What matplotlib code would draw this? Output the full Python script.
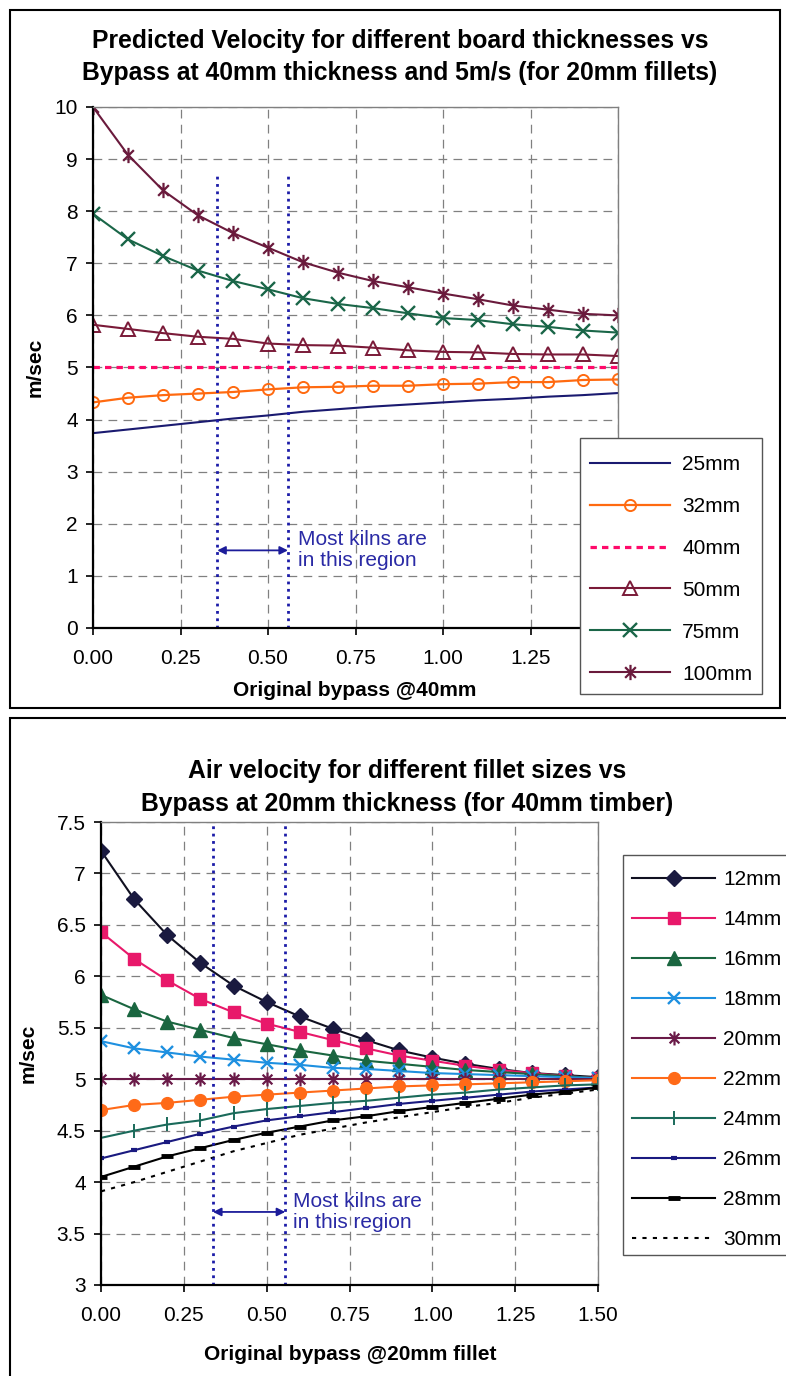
import numpy as np
import matplotlib.pyplot as plt
from matplotlib.patches import Rectangle
from matplotlib.path import Path
from matplotlib.ticker import FuncFormatter

plt.rcParams['font.family'] = ['Liberation Sans', 'DejaVu Sans']

# ---- data -------------------------------------------------------------
bypass = [0.0, 0.1, 0.2, 0.3, 0.4, 0.5, 0.6, 0.7, 0.8, 0.9, 1.0, 1.1, 1.2, 1.3, 1.4, 1.5]

# top chart: board thickness
board_labels = ['25mm', '32mm', '40mm', '50mm', '75mm', '100mm']
v25 = [3.74, 3.81, 3.88, 3.95, 4.02, 4.08, 4.15, 4.20, 4.25, 4.29, 4.33, 4.37, 4.40, 4.44, 4.47, 4.51]
v32 = [4.33, 4.42, 4.47, 4.50, 4.53, 4.58, 4.62, 4.63, 4.65, 4.65, 4.68, 4.69, 4.72, 4.72, 4.76, 4.77]
v40 = [5.0] * 16
v50 = [5.82, 5.74, 5.66, 5.59, 5.55, 5.46, 5.43, 5.42, 5.38, 5.33, 5.30, 5.29, 5.26, 5.25, 5.25, 5.22]
v75 = [7.95, 7.46, 7.14, 6.86, 6.66, 6.50, 6.33, 6.22, 6.14, 6.04, 5.95, 5.91, 5.83, 5.78, 5.71, 5.67]
v100 = [10.0, 9.08, 8.40, 7.92, 7.58, 7.30, 7.02, 6.82, 6.66, 6.54, 6.42, 6.31, 6.19, 6.11, 6.03, 6.00]

# bottom chart: fillet size
fillet_labels = ['12mm', '14mm', '16mm', '18mm', '20mm', '22mm', '24mm', '26mm', '28mm', '30mm']
f12 = [7.22, 6.75, 6.40, 6.13, 5.91, 5.75, 5.61, 5.49, 5.38, 5.28, 5.21, 5.15, 5.10, 5.06, 5.04, 5.02]
f14 = [6.43, 6.17, 5.96, 5.78, 5.65, 5.54, 5.46, 5.38, 5.30, 5.23, 5.18, 5.13, 5.09, 5.06, 5.03, 5.01]
f16 = [5.82, 5.68, 5.56, 5.48, 5.40, 5.34, 5.28, 5.23, 5.18, 5.15, 5.12, 5.09, 5.07, 5.05, 5.03, 5.01]
f18 = [5.37, 5.30, 5.26, 5.22, 5.19, 5.16, 5.14, 5.11, 5.10, 5.08, 5.06, 5.05, 5.04, 5.03, 5.02, 5.01]
f20 = [5.0] * 16
f22 = [4.70, 4.75, 4.77, 4.80, 4.83, 4.85, 4.87, 4.89, 4.91, 4.93, 4.94, 4.95, 4.96, 4.97, 4.98, 4.99]
f24 = [4.43, 4.50, 4.56, 4.60, 4.67, 4.71, 4.74, 4.77, 4.79, 4.82, 4.85, 4.87, 4.90, 4.92, 4.94, 4.95]
f26 = [4.23, 4.31, 4.39, 4.47, 4.54, 4.60, 4.64, 4.68, 4.72, 4.76, 4.79, 4.82, 4.85, 4.88, 4.90, 4.92]
f28 = [4.05, 4.15, 4.25, 4.33, 4.41, 4.48, 4.54, 4.60, 4.64, 4.69, 4.73, 4.77, 4.81, 4.85, 4.88, 4.92]
f30 = [3.91, 4.00, 4.10, 4.20, 4.30, 4.38, 4.46, 4.52, 4.58, 4.63, 4.68, 4.73, 4.77, 4.82, 4.86, 4.90]

kiln_lo = [0.355, 0.338]
kiln_hi = [0.557, 0.556]

W, H = 786, 1376

# excel style star marker (x with a vertical bar)
star = Path([(0, -1), (0, 1), (-0.7, -0.7), (0.7, 0.7), (-0.7, 0.7), (0.7, -0.7)],
            [Path.MOVETO, Path.LINETO] * 3)


def fx(px):
    return px / W


def fy(py):
    return 1 - py / H


def style_axes(ax):
    ax.grid(True, color='#808080', linestyle=(0, (7, 5)), linewidth=0.9)
    ax.set_axisbelow(True)
    for s in ['top', 'right']:
        ax.spines[s].set_color('#808080')
        ax.spines[s].set_linewidth(1.0)
    for s in ['left', 'bottom']:
        ax.spines[s].set_color('black')
        ax.spines[s].set_linewidth(1.6)
    ax.tick_params(axis='y', direction='out', length=5, width=1.2, pad=6, labelsize=15)
    ax.tick_params(axis='x', direction='out', length=5, width=1.2, pad=10, labelsize=15)
    ax.xaxis.set_major_formatter(FuncFormatter(lambda v, p: '%.2f' % v))
    ax.yaxis.set_major_formatter(FuncFormatter(lambda v, p: '%g' % v))


def kiln_region(ax, lo, hi, top, arrow_y, text_x):
    kc = '#1c1ca8'
    ax.plot([lo, lo], [ax.get_ylim()[0], top], color=kc, linestyle=':', linewidth=2.0)
    ax.plot([hi, hi], [ax.get_ylim()[0], top], color=kc, linestyle=':', linewidth=2.0)
    ax.annotate('', xy=(hi, arrow_y), xytext=(lo, arrow_y),
                arrowprops=dict(arrowstyle='<|-|>', color='#1c1c9a', lw=1.3,
                                shrinkA=0, shrinkB=0, mutation_scale=12))
    ax.text(text_x, arrow_y, 'Most kilns are\nin this region', color='#2a2aa5',
            fontsize=15, va='center', ha='left', linespacing=1.15)


def legend_box(x0, y0, x1, y1):
    fig.add_artist(Rectangle((fx(x0), fy(y1)), fx(x1 - x0), (y1 - y0) / H,
                             transform=fig.transFigure, fc='white', ec='#555555',
                             lw=1.0, zorder=4.9))


fig = plt.figure(figsize=(W / 100, H / 100), dpi=100)

# panel frames
fig.add_artist(Rectangle((fx(10), fy(708)), fx(770), 698 / H, transform=fig.transFigure,
                         fill=False, ec='black', lw=1.5))
fig.add_artist(Rectangle((fx(10), -0.2), 1.2, 0.2 + (H - 718) / H, transform=fig.transFigure,
                         fill=False, ec='black', lw=1.5))

# ---- top chart ---------------------------------------------------------
ax1 = fig.add_axes([fx(93), fy(628), fx(618 - 93), (628 - 107) / H])
ax1.plot(bypass, v25, color='#1a1a70', lw=1.5, label=board_labels[0])
ax1.plot(bypass, v32, color='#ff6a10', lw=1.6, marker='o', ms=8, mfc='none', mew=1.4,
         label=board_labels[1])
ax1.plot(bypass, v40, color='#ff0a6a', lw=2.3, linestyle=(0, (2, 1.6)), label=board_labels[2])
ax1.plot(bypass, v50, color='#7a1a38', lw=1.5, marker='^', ms=10, mfc='none', mew=1.4,
         label=board_labels[3])
ax1.plot(bypass, v75, color='#1a6648', lw=1.5, marker='x', ms=10, mew=1.7,
         label=board_labels[4])
ax1.plot(bypass, v100, color='#6a1a3c', lw=1.5, marker=star, ms=11, mfc='none', mew=1.6,
         label=board_labels[5])
ax1.set_xlim(0, 1.5)
ax1.set_ylim(0, 10)
ax1.set_xticks(np.arange(0, 1.51, 0.25))
ax1.set_yticks(np.arange(0, 11, 1))
style_axes(ax1)
kiln_region(ax1, kiln_lo[0], kiln_hi[0], 8.75, 1.49, 0.585)

fig.text(fx(400), fy(41), 'Predicted Velocity for different board thicknesses vs',
         ha='center', va='center', fontsize=17.8, fontweight='bold')
fig.text(fx(400), fy(73), 'Bypass at 40mm thickness and 5m/s (for 20mm fillets)',
         ha='center', va='center', fontsize=17.8, fontweight='bold')
fig.text(fx(35), fy(367), 'm/sec', rotation=90, ha='center', va='center',
         fontsize=15, fontweight='bold')
fig.text(fx(355), fy(690), 'Original bypass @40mm', ha='center', va='center',
         fontsize=15, fontweight='bold')

legend_box(580, 438, 762, 694)
h, l = ax1.get_legend_handles_labels()
fig.legend(h, l, loc='upper left', bbox_to_anchor=(fx(590), fy(455)),
           borderaxespad=0, borderpad=0, fontsize=15, frameon=False,
           handlelength=3.85, handletextpad=0.58, labelspacing=1.1)

# ---- bottom chart ------------------------------------------------------
ax2 = fig.add_axes([fx(101), fy(1285), fx(598 - 101), (1285 - 822) / H])
ax2.plot(bypass, f12, color='#101020', lw=1.5, marker='D', ms=8, mfc='#1a1a40',
         mec='#1a1a40', label=fillet_labels[0])
ax2.plot(bypass, f14, color='#e8186a', lw=1.5, marker='s', ms=8.5, mfc='#e8186a',
         mec='#e8186a', label=fillet_labels[1])
ax2.plot(bypass, f16, color='#1a6640', lw=1.5, marker='^', ms=9.5, mfc='#1a6640',
         mec='#1a6640', label=fillet_labels[2])
ax2.plot(bypass, f18, color='#1e90e0', lw=1.5, marker='x', ms=9, mew=1.7,
         label=fillet_labels[3])
ax2.plot(bypass, f20, color='#6a1a48', lw=1.5, marker=star, ms=10, mfc='none', mew=1.6,
         label=fillet_labels[4])
ax2.plot(bypass, f22, color='#ff6a18', lw=1.5, marker='o', ms=8.5, mfc='#ff6a18',
         mec='#ff6a18', label=fillet_labels[5])
ax2.plot(bypass, f24, color='#1a6a5a', lw=1.5, marker='|', ms=10, mew=1.4,
         label=fillet_labels[6])
ax2.plot(bypass, f26, color='#1a1a80', lw=1.5, marker='_', ms=5, mew=3,
         label=fillet_labels[7])
ax2.plot(bypass, f28, color='#000000', lw=1.5, marker='_', ms=8, mew=3.5,
         label=fillet_labels[8])
ax2.plot(bypass, f30, color='#000000', lw=1.5, linestyle=(0, (2, 3)),
         label=fillet_labels[9])
ax2.set_xlim(0, 1.5)
ax2.set_ylim(3, 7.5)
ax2.set_xticks(np.arange(0, 1.51, 0.25))
ax2.set_yticks(np.arange(3, 7.51, 0.5))
style_axes(ax2)
kiln_region(ax2, kiln_lo[1], kiln_hi[1], 7.5, 3.71, 0.58)

fig.text(fx(407), fy(771), 'Air velocity for different fillet sizes vs',
         ha='center', va='center', fontsize=17.8, fontweight='bold')
fig.text(fx(407), fy(804), 'Bypass at 20mm thickness (for 40mm timber)',
         ha='center', va='center', fontsize=17.8, fontweight='bold')
fig.text(fx(28), fy(1053), 'm/sec', rotation=90, ha='center', va='center',
         fontsize=15, fontweight='bold')
fig.text(fx(350), fy(1354), 'Original bypass @20mm fillet', ha='center', va='center',
         fontsize=15, fontweight='bold')

legend_box(623, 855, 900, 1255)
h, l = ax2.get_legend_handles_labels()
fig.legend(h, l, loc='upper left', bbox_to_anchor=(fx(632), fy(870)),
           borderaxespad=0, borderpad=0, fontsize=15, frameon=False,
           handlelength=4.0, handletextpad=0.38, labelspacing=1.01)

fig.savefig('out.png', dpi=100)
